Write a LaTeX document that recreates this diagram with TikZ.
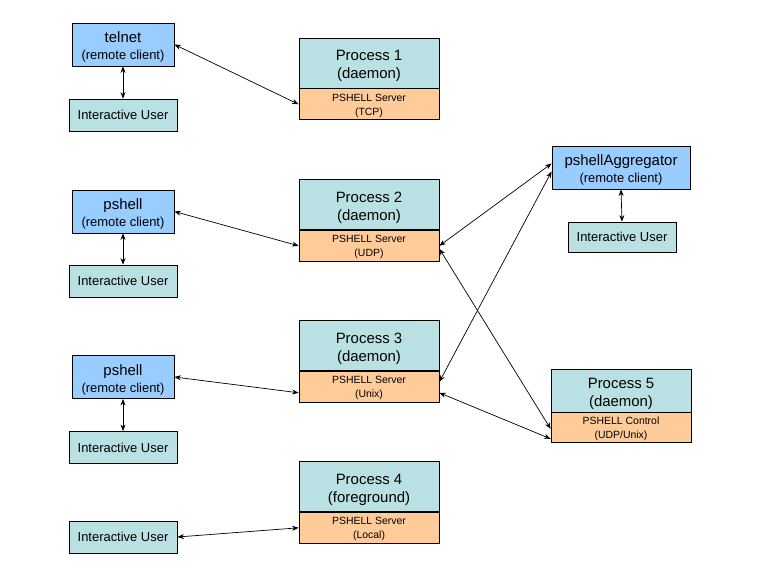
\documentclass[tikz,border=0pt]{standalone}
\usepackage{fontspec}
\setmainfont{Liberation Sans}
\usetikzlibrary{arrows.meta, positioning}
\definecolor{ClientBlue}{HTML}{99CCFF}
\definecolor{ProcTeal}{HTML}{B9E0E3}
\definecolor{ServerOrange}{HTML}{FFCC99}
\tikzset{
    % Box styles
    client/.style={
        rectangle,
        draw=black,
        fill=ClientBlue,
        line width=0.8bp,
        minimum width=102bp,
        minimum height=43bp,
        align=center,
        inner sep=1bp,
        font=\fontsize{15}{17}\selectfont
    },
    user/.style={
        rectangle,
        draw=black,
        fill=ProcTeal,
        line width=0.8bp,
        minimum width=108bp,
        minimum height=32bp,
        font=\fontsize{13}{15}\selectfont
    },
    process/.style={
        rectangle,
        draw=black,
        fill=ProcTeal,
        line width=0.8bp,
        minimum width=140bp,
        minimum height=50bp,
        align=center,
        inner sep=1bp,
        font=\fontsize{15}{18}\selectfont
    },
    server/.style={
        rectangle,
        draw=black,
        fill=ServerOrange,
        line width=0.8bp,
        minimum width=140bp,
        minimum height=31bp,
        align=center,
        inner sep=1bp,
        font=\fontsize{10.5}{14}\selectfont
    },
    % Connector style
    link/.style={
        {Stealth[length=6.5bp,width=5bp]}-{Stealth[length=6.5bp,width=5bp]},
        line width=0.7bp,
        draw=black
    }
}
% second line of a client box, and struts that push the text a little down
\newcommand{\subline}{\fontsize{13}{16}\selectfont}
\newcommand{\lift}[1]{\rule{0pt}{#1}}

\begin{document}
\begin{tikzpicture}[x=1bp, y=-1bp]
    \useasboundingbox (0,0) rectangle (768,576);

    % Clients and users on the left
    \node[client] (tel) at (123,44.5) {\lift{16bp}telnet\\\subline (remote client)};
    \node[user] (user1) at (123,115) {Interactive User};
    \node[client] (psh2) at (123,211.5) {\lift{16bp}pshell\\\subline (remote client)};
    \node[user] (user2) at (123,281) {Interactive User};
    \node[client] (psh3) at (123,377) {\lift{16bp}pshell\\\subline (remote client)};
    \node[user] (user3) at (123,447.5) {Interactive User};
    \node[user] (user4) at (123,537) {Interactive User};

    % Processes
    \node[process] (proc1) at (369,63) {\lift{17bp}Process 1\\(daemon)};
    \node[server, below=0pt of proc1] (srv1) {\lift{10.5bp}PSHELL Server\\(TCP)};
    \node[process] (proc2) at (369,204.5) {\lift{17bp}Process 2\\(daemon)};
    \node[server, below=0pt of proc2] (srv2) {\lift{10.5bp}PSHELL Server\\(UDP)};
    \node[process] (proc3) at (369,345.5) {\lift{17bp}Process 3\\(daemon)};
    \node[server, below=0pt of proc3] (srv3) {\lift{10.5bp}PSHELL Server\\(Unix)};
    \node[process] (proc4) at (369,486.5) {\lift{17bp}Process 4\\(foreground)};
    \node[server, below=0pt of proc4] (srv4) {\lift{10.5bp}PSHELL Server\\(Local)};

    % Aggregator and control process
    \node[client, minimum width=138bp] (agg) at (621,167.5) {\lift{16bp}pshellAggregator\\\subline (remote client)};
    \node[user, minimum height=30bp] (user5) at (622,237) {Interactive User};
    \node[process, minimum height=43bp] (proc5) at (621,390.5) {\lift{17bp}Process 5\\(daemon)};
    \node[server, minimum height=30bp, below=0pt of proc5] (ctl) {\lift{10.5bp}PSHELL Control\\(UDP/Unix)};

    % Connectors
    \draw[link] (tel.east) -- (srv1.west);
    \draw[link] (tel.south) -- (user1.north);
    \draw[link] (psh2.east) -- (srv2.west);
    \draw[link] (psh2.south) -- (user2.north);
    \draw[link] (psh3.east) -- ([yshift=-6bp]srv3.west);
    \draw[link] (psh3.south) -- (user3.north);
    \draw[link] (user4.east) -- (srv4.west);
    \draw[link] (agg.south) -- (user5.north);
    \draw[link] (srv2.east) -- ([yshift=4bp]agg.west);
    \draw[link] ([yshift=-3bp]srv2.east) -- ([yshift=-1bp]ctl.west);
    \draw[link] ([yshift=5bp]srv3.east) -- ([yshift=-4bp]agg.west);
    \draw[link] ([yshift=-6bp]srv3.east) -- ([yshift=-11bp]ctl.west);
\end{tikzpicture}
\end{document}
